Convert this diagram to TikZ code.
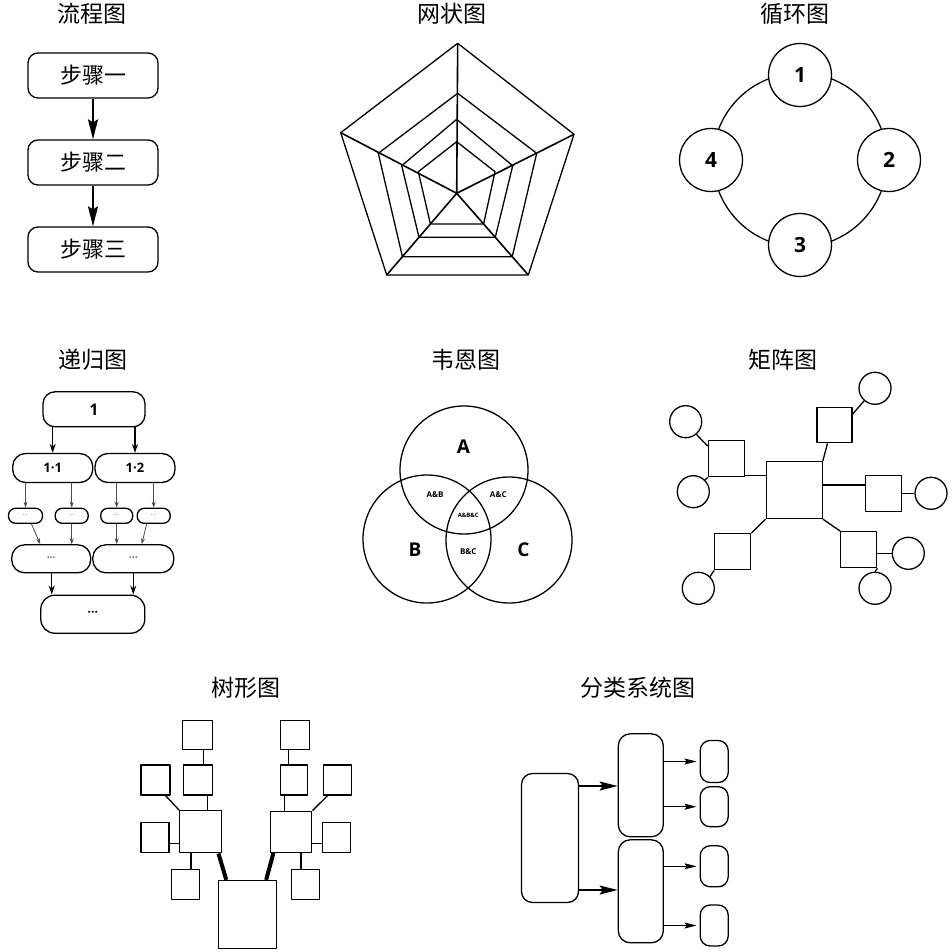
\documentclass[tikz,border=0pt]{standalone}
\usepackage{fontspec}
\setmainfont{Noto Sans CJK SC}
\setsansfont{Open Sans}
\newfontfamily\cjk{Noto Sans CJK SC}
\usetikzlibrary{arrows.meta,calc}
\begin{document}
\begin{tikzpicture}[x=1pt,y=-1pt,line width=1.3pt,line join=round,
  ttl/.style={font=\cjk\fontsize{23}{23}\selectfont, inner sep=0pt},
  stepbox/.style={draw, rounded corners=10pt, minimum width=130pt, minimum height=45pt, inner sep=0pt, font=\cjk\fontsize{22}{22}\selectfont},
  bigarrow/.style={-{Stealth[length=20pt,width=10pt,inset=3pt]}, line width=1.6pt},
  ringnode/.style={draw, circle, minimum size=63pt, inner sep=0pt, fill=white, font=\sffamily\bfseries\fontsize{21}{21}\selectfont},
  rbox/.style={draw, rounded corners=12pt, inner sep=0pt, font=\sffamily\bfseries\fontsize{13}{13}\selectfont},
  sbox/.style={draw, rounded corners=7pt, inner sep=0pt, minimum height=15pt, font=\sffamily\fontsize{7}{7}\selectfont, text=gray},
  marrow/.style={-{Stealth[length=9pt,width=6pt]}, line width=1.2pt},
  tarrow/.style={-{Stealth[length=6pt,width=4pt]}, line width=0.8pt, draw=black!70},
  vlab/.style={font=\sffamily\bfseries\fontsize{19}{19}\selectfont, inner sep=0pt},
  vsmall/.style={font=\sffamily\bfseries\fontsize{8}{8}\selectfont, inner sep=0pt},
  sq/.style={draw, inner sep=0pt},
  circ/.style={draw, circle, minimum size=32pt, inner sep=0pt},
  cbox/.style={draw, rounded corners=11pt, inner sep=0pt},
  carrow/.style={-{Stealth[length=18pt,width=9pt,inset=3pt]}, line width=1.5pt},
  csarrow/.style={-{Stealth[length=12pt,width=6pt,inset=2pt]}, line width=1.1pt}
]
\fill[white] (0,0) rectangle (952,952);
\useasboundingbox (0,0) rectangle (952,952);

% ---------- titles ----------
\node[ttl] (t1) at (92,14) {流程图};
\node[ttl] (t2) at (452,14) {网状图};
\node[ttl] (t3) at (795,14) {循环图};
\node[ttl] (t4) at (92.5,360) {递归图};
\node[ttl] (t5) at (466,360) {韦恩图};
\node[ttl] (t6) at (783,360) {矩阵图};
\node[ttl] (t7) at (246,688) {树形图};
\node[ttl] (t8) at (637.5,688) {分类系统图};

% ---------- flow chart ----------
\node[stepbox] (s1) at (93,75.5) {步骤一};
\node[stepbox] (s2) at (93,162.5) {步骤二};
\node[stepbox] (s3) at (93,249.5) {步骤三};
\draw[bigarrow] (s1.south) -- (s2.north);
\draw[bigarrow] (s2.south) -- (s3.north);

% ---------- web ----------
\coordinate (wO) at (456.7,193.3);
\coordinate (w1) at (457.7,43.3);
\coordinate (w2) at (574,134.3);
\coordinate (w3) at (528.3,275);
\coordinate (w4) at (386.7,275);
\coordinate (w5) at (340.7,132.7);
\draw (w1) -- (w2) -- (w3) -- (w4) -- (w5) -- cycle;
\draw (457.7,93.3) -- (536.7,153.3) -- (512.2,256.7) -- (402.4,256.7) -- (378.3,153.3) -- cycle;
\draw (456.7,119.3) -- (512.7,165.7) -- (495.3,237.3) -- (419,237.3) -- (401.7,165.7) -- cycle;
\draw (456.7,141.7) -- (495,171.7) -- (483.6,224) -- (430.4,224) -- (418.3,171.7) -- cycle;
\draw[line width=1.6pt] (wO) -- (w1) (wO) -- (w2) (wO) -- (w3) (wO) -- (w4) (wO) -- (w5);

% ---------- cycle ----------
\coordinate (cyc) at (800,160);
\draw (cyc) circle[radius=87pt];
\node[ringnode] (c1) at (800,75) {1};
\node[ringnode] (c2) at (889,160) {2};
\node[ringnode] (c3) at (800,245) {3};
\node[ringnode] (c4) at (711,160) {4};

% ---------- recursion ----------
\node[rbox, minimum width=102pt, minimum height=35pt, font=\sffamily\bfseries\fontsize{16}{16}\selectfont] (r1) at (94,409.3) {1};
\node[rbox, rounded corners=13pt, minimum width=80pt, minimum height=29pt] (r11) at (52.7,468) {1·1};
\node[rbox, rounded corners=13pt, minimum width=80pt, minimum height=29pt] (r12) at (135,468) {1·2};
\node[sbox, minimum width=34pt] (sa) at (25.5,515.8) {···};
\node[sbox, minimum width=33pt] (sb) at (71.7,515.8) {···};
\node[sbox, minimum width=32pt] (sc) at (116.7,515.8) {···};
\node[sbox, minimum width=33pt] (sd) at (153.7,515.8) {···};
\node[rbox, rounded corners=13pt, minimum width=79pt, minimum height=28pt, font=\sffamily\fontsize{11}{11}\selectfont] (ra) at (51.2,558.8) {···};
\node[rbox, rounded corners=13pt, minimum width=81pt, minimum height=28pt, font=\sffamily\fontsize{11}{11}\selectfont] (rb) at (133.3,558.8) {···};
\node[rbox, rounded corners=14pt, minimum width=104pt, minimum height=38pt, font=\sffamily\bfseries\fontsize{12}{12}\selectfont] (rr) at (92.8,614.2) {···};
\draw[marrow] (r1.south -| r11.north) -- (r11.north);
\draw[marrow] (r1.south -| r12.north) -- (r12.north);
\draw[tarrow] (r11.south -| sa.north) -- (sa.north);
\draw[tarrow] (r11.south -| sb.north) -- (sb.north);
\draw[tarrow] (r12.south -| sc.north) -- (sc.north);
\draw[tarrow] (r12.south -| sd.north) -- (sd.north);
\draw[tarrow] ([xshift=6pt]sa.south) -- ([xshift=-11pt]ra.north);
\draw[tarrow] (sb.south) -- (sb.south |- ra.north);
\draw[tarrow] (sc.south) -- (sc.south |- rb.north);
\draw[tarrow] ([xshift=-7pt]sd.south) -- ([xshift=8.4pt]rb.north);
\draw[marrow] ([xshift=0.5pt]ra.south) -- ([xshift=0.5pt]ra.south |- rr.north);
\draw[marrow] (rb.south) -- (rb.south |- rr.north);

% ---------- venn ----------
\coordinate (vA) at (464,470);
\coordinate (vB) at (427,539);
\coordinate (vC) at (509,540);
\draw (vA) circle[radius=64pt];
\draw (vB) circle[radius=64pt];
\draw (vC) circle[radius=63pt];
\node[vlab] (la) at (463.3,446.7) {A};
\node[vlab] (lb) at (415,550) {B};
\node[vlab] (lc) at (523.3,550) {C};
\node[vsmall] (lab) at (435,495) {A\&B};
\node[vsmall] (lac) at (498.3,495) {A\&C};
\node[vsmall, font=\sffamily\bfseries\fontsize{6}{6}\selectfont] (labc) at (468.3,515) {A\&B\&C};
\node[vsmall] (lbc) at (468.3,551.7) {B\&C};

% ---------- matrix ----------
\node[sq, minimum width=56pt, minimum height=57pt] (mC) at (794.2,490) {};
\node[sq, minimum size=36pt] (mUL) at (726.3,458.7) {};
\node[sq, minimum size=35pt] (mUR) at (834.5,425.2) {};
\node[sq, minimum size=36pt] (mR) at (883.3,493.8) {};
\node[sq, minimum size=36pt] (mLL) at (732.8,551.7) {};
\node[sq, minimum size=36pt] (mLR) at (858.8,549.7) {};
\node[circ] (mc1) at (685.7,421.7) {};
\node[circ] (mc2) at (693.3,491.7) {};
\node[circ] (mc5) at (875,388.3) {};
\node[circ] (mc6) at (931,493.3) {};
\node[circ] (mc7) at (698.3,588.3) {};
\node[circ] (mc3) at (908.3,553.3) {};
\node[circ] (mc4) at (875,588.3) {};
\draw ([yshift=2pt]mUL.south east) -- ([yshift=2pt]mUL.south east -| mC.west);
\draw (mc1.-50) -- ([yshift=-6pt]mUL.north west);
\draw (mc2.45) -- (mUL.south west);
\draw ([xshift=-7pt]mUR.south) -- (mC.north east);
\draw (mc5.-131) -- ([yshift=-7pt]mUR.north east);
\draw ([yshift=5pt]mC.east) -- ([yshift=5pt]mC.east -| mR.west);
\draw (mR.east |- mc6) -- (mc6.west);
\draw (mC.south west) -- (mLL.north east);
\draw (mLL.south west) -- (mc7.45);
\draw (mC.south east) -- (mLR.north west);
\draw (mLR.east |- mc3) -- (mc3.west);
\draw (mLR.south east) -- (mc4.north);

% ---------- tree ----------
\node[sq, minimum width=58pt, minimum height=68pt] (tB) at (247.5,914.5) {};
\node[sq, minimum size=42pt] (tL) at (200.8,831.8) {};
\node[sq, minimum size=41pt] (tR) at (291.3,831.8) {};
\node[sq, minimum width=30pt, minimum height=29pt] (tA1) at (197.8,734.8) {};
\node[sq, minimum width=29pt, minimum height=30pt] (tA2) at (197.8,780) {};
\node[sq, minimum width=29pt, minimum height=30pt] (tA3) at (155.5,780) {};
\node[sq, minimum width=28pt, minimum height=30pt] (tA4) at (155,837.7) {};
\node[sq, minimum width=28pt, minimum height=30pt] (tA5) at (185.8,884.3) {};
\node[sq, minimum width=29pt, minimum height=29pt] (tC1) at (294.7,734.8) {};
\node[sq, minimum width=27pt, minimum height=30pt] (tC2) at (294.3,780) {};
\node[sq, minimum width=28pt, minimum height=30pt] (tC3) at (337.2,780) {};
\node[sq, minimum width=28pt, minimum height=30pt] (tC4) at (336.8,837.7) {};
\node[sq, minimum width=28pt, minimum height=30pt] (tC5) at (305.8,884.3) {};
\draw[line width=4pt] ([xshift=-4pt]tL.south east) -- ([xshift=8.4pt]tB.north west);
\draw[line width=4pt] ([xshift=3.3pt]tR.south west) -- ([xshift=-11pt]tB.north east);
\draw ([xshift=5.5pt]tA1.south) -- ([xshift=5.5pt]tA1.south |- tA2.north);
\draw ([xshift=10pt]tA2.south) -- ([xshift=10pt]tA2.south |- tL.north);
\draw ([xshift=-5pt]tA3.south east) -- (tL.north west);
\draw ([yshift=-5.6pt]tA4.east) -- ([yshift=-5.6pt]tA4.east -| tL.west);
\draw ([xshift=5.2pt]tA5.north |- tL.south) -- ([xshift=5.2pt]tA5.north);
\draw ([xshift=-6pt]tC1.south) -- ([xshift=-6pt]tC1.south |- tC2.north);
\draw ([xshift=-10pt]tC2.south) -- ([xshift=-10pt]tC2.south |- tR.north);
\draw ([xshift=5pt]tC3.south west) -- (tR.north east);
\draw ([yshift=-5.6pt]tC4.west) -- ([yshift=-5.6pt]tC4.west -| tR.east);
\draw ([xshift=-4.8pt]tC5.north |- tR.south) -- ([xshift=-4.8pt]tC5.north);

% ---------- classification ----------
\node[cbox, minimum width=57pt, minimum height=129pt] (cL) at (550,838) {};
\node[cbox, rounded corners=12pt, minimum width=45pt, minimum height=103pt] (cM1) at (640.8,785.3) {};
\node[cbox, rounded corners=12pt, minimum width=45pt, minimum height=103pt] (cM2) at (640.8,891.3) {};
\node[cbox, rounded corners=10pt, minimum width=28pt, minimum height=42pt] (cS1) at (714.2,761.5) {};
\node[cbox, rounded corners=10pt, minimum width=28pt, minimum height=40pt] (cS2) at (714.2,806.7) {};
\node[cbox, rounded corners=10pt, minimum width=28pt, minimum height=41pt] (cS3) at (714.2,866.3) {};
\node[cbox, rounded corners=10pt, minimum width=28pt, minimum height=41pt] (cS4) at (714.2,925.5) {};
\draw[carrow] ([yshift=52pt]cL.east) -- ([yshift=52pt]cL.east -| cM1.west);
\draw[carrow] ([yshift=-52pt]cL.east) -- ([yshift=-52pt]cL.east -| cM2.west);
\draw[csarrow] (cS1.west -| cM1.east) -- ([xshift=-3pt]cS1.west);
\draw[csarrow] (cS2.west -| cM1.east) -- ([xshift=-3pt]cS2.west);
\draw[csarrow] (cS3.west -| cM2.east) -- ([xshift=-3pt]cS3.west);
\draw[csarrow] (cS4.west -| cM2.east) -- ([xshift=-3pt]cS4.west);
\end{tikzpicture}
\end{document}
